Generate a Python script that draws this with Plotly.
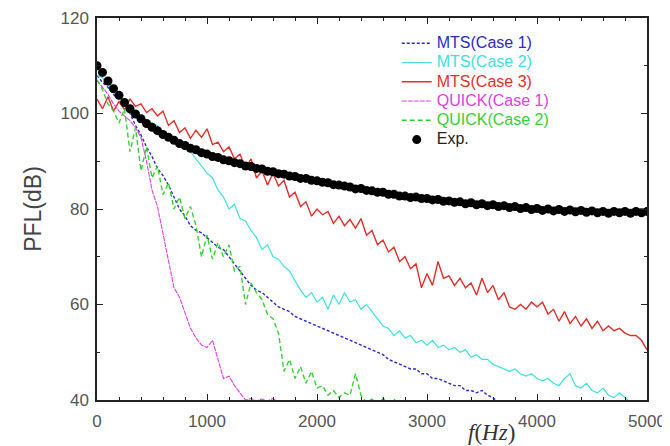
import plotly.graph_objects as go

freq = list(range(0, 5001, 50))

exp_db = [110.0, 108.6, 106.8, 105.2, 103.8, 102.3, 101.0, 99.9, 98.9, 97.9,
          97.1, 96.4, 95.6, 95.0, 94.4, 93.7, 93.3, 92.7, 92.4, 91.8,
          91.5, 91.0, 90.8, 90.3, 90.1, 89.7, 89.5, 89.0, 88.9, 88.5,
          88.4, 87.9, 87.8, 87.4, 87.3, 86.9, 86.8, 86.4, 86.4, 86.0,
          85.9, 85.6, 85.5, 85.1, 85.0, 84.8, 84.6, 84.2, 84.3, 83.9,
          83.8, 83.5, 83.5, 83.1, 83.1, 82.7, 82.7, 82.4, 82.5, 82.2,
          82.2, 81.9, 82.0, 81.6, 81.7, 81.4, 81.5, 81.1, 81.3, 80.9,
          81.1, 80.7, 80.9, 80.5, 80.7, 80.3, 80.5, 80.1, 80.3, 79.9,
          80.1, 79.7, 80.0, 79.6, 79.9, 79.5, 79.8, 79.4, 79.7, 79.3,
          79.6, 79.2, 79.5, 79.1, 79.5, 79.2, 79.5, 79.1, 79.5, 79.2, 79.5]

mts3_db = [103.0, 101.0, 103.5, 100.5, 102.5, 100.8, 103.0, 101.5, 102.0, 100.2,
           101.0, 99.5, 100.5, 97.5, 98.5, 96.0, 97.0, 94.8, 96.5, 95.0,
           96.8, 93.5, 94.0, 92.0, 93.0, 90.5, 91.5, 88.5, 90.5, 86.5,
           88.0, 85.0, 87.5, 84.8, 86.0, 82.5, 83.5, 80.5, 81.5, 78.5,
           80.0, 78.8, 79.5, 77.0, 78.5, 76.5, 77.8, 76.0, 78.0, 74.5,
           75.5, 72.5, 73.5, 71.0, 72.0, 69.0, 70.0, 67.5, 68.5, 63.5,
           66.5, 64.0, 69.0, 65.5, 66.0, 64.0, 65.5, 63.5, 64.5, 62.0,
           65.5, 62.5, 64.0, 61.0, 62.5, 59.5, 59.0, 60.0, 59.0, 60.5,
           59.5, 60.5, 58.0, 59.0, 56.5, 58.5, 56.0, 57.5, 55.5, 57.0,
           55.0, 56.5, 54.5, 55.5, 54.5, 55.0, 54.0, 53.5, 53.5, 52.5, 50.5]

mts2_db = [108.0, 107.5, 106.0, 104.5, 103.5, 103.0, 101.0, 100.5, 99.0, 98.5,
           98.0, 97.5, 96.0, 95.5, 94.0, 93.5, 92.5, 92.0, 90.5, 89.0,
           87.5, 86.5, 84.0, 82.5, 80.0, 81.0, 78.0, 77.5, 75.5, 74.0,
           71.5, 72.5, 70.0, 69.5, 68.0, 67.0, 65.0, 63.0, 61.5, 62.5,
           60.5, 61.5, 59.0, 62.0, 60.0, 62.5, 60.5, 61.0, 59.0, 60.0,
           58.5, 57.0, 55.5, 55.0, 53.5, 54.5, 53.0, 53.5, 52.0, 52.5,
           51.5, 52.5, 51.0, 51.5, 50.5, 51.0, 50.0, 50.5, 49.0, 49.5,
           48.5, 48.5, 47.5, 47.0, 46.5, 46.0, 46.5, 45.5, 45.0, 45.5,
           44.5, 44.0, 44.5, 43.5, 43.0, 44.5, 45.5, 43.0, 42.5, 43.5,
           42.0, 41.5, 42.5, 41.0, 40.5, 41.5, 40.5, 39.5, 39.0]

mts1_db = [108.0, 106.5, 105.5, 104.0, 103.0, 102.5, 100.0, 97.5, 95.5, 93.0,
           91.0, 88.5, 87.0, 85.0, 82.5, 80.0, 78.5, 76.5, 75.5, 75.0,
           74.0, 73.0, 72.0, 71.5, 70.0, 68.5, 67.0, 65.5, 64.0, 63.0,
           62.5, 61.5, 60.5, 59.5, 59.0, 58.5, 57.5, 57.0, 56.5, 56.0,
           55.5, 55.0, 54.5, 54.0, 53.5, 53.0, 52.5, 52.0, 51.5, 51.0,
           50.5, 50.0, 49.5, 48.5, 48.0, 47.5, 47.0, 46.5, 46.5, 45.5,
           45.5, 44.5, 44.5, 44.0, 43.5, 43.0, 43.0, 42.0, 42.0, 41.5,
           42.0, 41.0, 40.5, 39.5]

quick2_db = [107.0, 105.0, 102.0, 100.5, 98.0, 101.0, 92.0, 97.0, 88.0, 93.0,
             86.5, 89.0, 83.0, 85.5, 80.0, 82.5, 78.0, 80.5, 76.5, 70.0,
             74.5, 69.5, 73.0, 70.0, 72.5, 67.0, 68.0, 60.0, 64.5, 62.5,
             61.0, 58.0, 57.0, 54.0, 46.0, 48.5, 44.5, 47.0, 43.5, 46.0,
             42.5, 43.0, 41.0, 42.0, 40.5, 41.5, 41.0, 45.5, 41.0, 39.5,
             40.2, 39.0, 40.3, 39.5, 40.2, 39.0]

quick1_db = [107.0, 105.5, 104.0, 102.0, 100.5, 99.5, 98.5, 97.0, 95.0, 90.0,
             84.0, 80.5, 75.0, 69.0, 63.5, 61.5, 58.0, 55.0, 53.0, 51.5,
             51.0, 52.5, 48.5, 44.5, 45.0, 43.0, 41.5, 40.0, 40.3, 39.8,
             40.2, 39.8, 40.3, 39.5]

x_ticks = [0, 1000, 2000, 3000, 4000, 5000]
y_ticks = [40, 60, 80, 100, 120]

series = [
    ("MTS(Case 1)", mts1_db, "#2a2ac8", "3px,2px", 1.4),
    ("MTS(Case 2)", mts2_db, "#3fe0e0", "solid", 1.2),
    ("MTS(Case 3)", mts3_db, "#e0302c", "solid", 1.4),
    ("QUICK(Case 1)", quick1_db, "#e040e0", "5px,1px", 1.1),
    ("QUICK(Case 2)", quick2_db, "#34d034", "5px,3px", 1.4),
]

LEG_SPAN = '<span style="color:{c};font-size:16px">{t}</span>'

fig = go.Figure()
for name, vals, color, dash, w in series:
    fig.add_trace(go.Scatter(
        x=freq[:len(vals)], y=vals, mode="lines",
        name=LEG_SPAN.format(c=color, t=name),
        line=dict(color=color, dash=dash, width=w),
    ))

fig.add_trace(go.Scatter(
    x=freq[:len(exp_db)], y=exp_db, mode="markers",
    name=LEG_SPAN.format(c="#222", t="Exp."),
    marker=dict(color="black", size=9),
))

axis_common = dict(
    showline=True, linecolor="#222", linewidth=1.5, mirror="ticks",
    ticks="inside", ticklen=6, tickcolor="#222", tickwidth=1,
    showgrid=False, zeroline=False, automargin=False,
    tickfont=dict(family="Liberation Sans", size=17, color="#555"),
)

fig.update_xaxes(range=[0, 5000], tickvals=x_ticks, ticklabelstandoff=5,
                 minor=dict(dtick=200, ticks="inside", ticklen=3, tickcolor="#222"),
                 **axis_common)
fig.update_yaxes(range=[40, 120], tickvals=y_ticks, ticklabelstandoff=3,
                 minor=dict(dtick=10, ticks="inside", ticklen=3, tickcolor="#222"),
                 title=dict(text="PFL(dB)", font=dict(family="Liberation Sans", size=23, color="#444"), standoff=12),
                 **axis_common)

fig.add_annotation(
    text="<i>f</i>(<i>Hz</i>)", xref="paper", yref="paper",
    x=0.763, y=-0.086, showarrow=False, yanchor="middle",
    font=dict(family="Liberation Serif", size=23, color="#333"),
)

fig.update_layout(
    width=662, height=438,
    margin=dict(l=89, r=23, t=10, b=46),
    paper_bgcolor="white", plot_bgcolor="white",
    showlegend=True,
    legend=dict(x=0.545, y=0.972, xanchor="left", yanchor="top",
                bgcolor="rgba(0,0,0,0)", borderwidth=0,
                font=dict(family="Liberation Sans", size=12.5),
                itemwidth=30, tracegroupgap=0),
)

fig.write_html("out.html")
